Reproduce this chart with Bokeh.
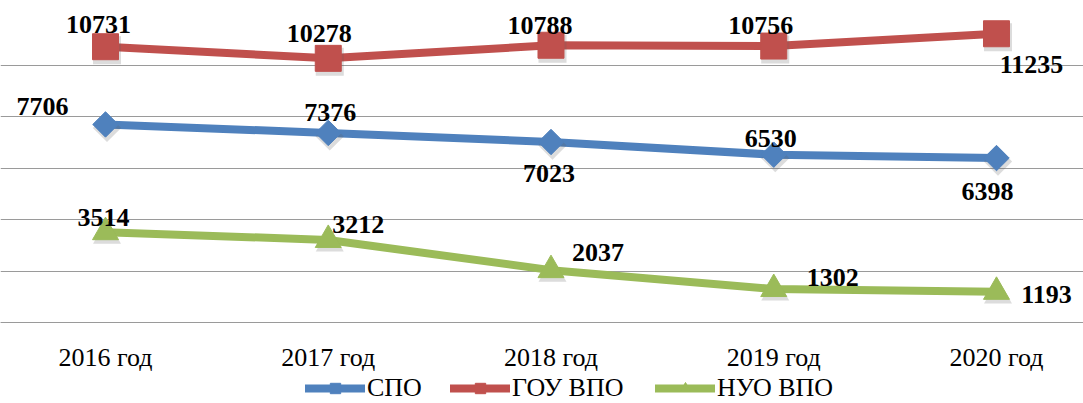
import math
from bokeh.plotting import figure
from bokeh.models import (ColumnDataSource, FixedTicker, Legend, LegendItem, Range1d)
from bokeh.core.properties import value
from bokeh.embed import file_html
from bokeh.resources import INLINE

# ---- data ----
years = ["2016 год", "2017 год", "2018 год", "2019 год", "2020 год"]
spo = [7706, 7376, 7023, 6530, 6398]
gou = [10731, 10278, 10788, 10756, 11235]
nuo = [3514, 3212, 2037, 1302, 1193]
series_names = ["СПО", "ГОУ ВПО", "НУО ВПО"]
grid_ticks = [0, 2000, 4000, 6000, 8000, 10000]

# ---- label placement (screen px offsets) ----
spo_dx = [-63, 2, -2, -3, -9]
spo_dy = [-18, -20, 31, -16, 33]
gou_dx = [-7, -9, -11, -13, 35]
gou_dy = [-22, -25, -20, -21, 31]
nuo_dx = [-2, 30, 47, 59, 50]
nuo_dy = [-15, -15, -18, -12, 3]
legend_x = [305, 450, 655]   # screen px from the frame's left edge

BLUE = "#4F81BD"
RED = "#C0504D"
GREEN = "#9BBB59"
GRID = "#9A9A9A"
SERIF = "Liberation Serif"
UNITS_PER_PX = 38.91   # vertical scale: 2000 units per ~51.4 px

xs = list(range(len(years)))

p = figure(width=1083, height=403, output_backend="svg", toolbar_location=None,
           x_range=Range1d(-0.4714, 4.3906), y_range=Range1d(-3152, 12529),
           min_border_left=0, min_border_right=0, min_border_top=0, min_border_bottom=0)
p.outline_line_color = None
p.background_fill_color = "white"
p.border_fill_color = "white"

p.xgrid.visible = False
p.ygrid.ticker = FixedTicker(ticks=grid_ticks)
p.ygrid.grid_line_color = GRID
p.ygrid.grid_line_width = 1
p.yaxis.visible = False

p.xaxis.fixed_location = 0
p.xaxis.ticker = FixedTicker(ticks=xs)
p.xaxis.major_label_overrides = {i: y for i, y in enumerate(years)}
p.xaxis.major_tick_out = 0
p.xaxis.major_tick_in = 0
p.xaxis.minor_tick_out = 0
p.xaxis.minor_tick_in = 0
p.xaxis.axis_line_color = GRID
p.xaxis.major_label_standoff = 21
p.xaxis.major_label_text_font = SERIF
p.xaxis.major_label_text_font_size = "26px"
p.xaxis.major_label_text_color = "black"

specs = [
    (series_names[0], spo, BLUE, "square", 18, math.pi / 4, spo_dx, spo_dy),
    (series_names[1], gou, RED, "square", 26, 0.0, gou_dx, gou_dy),
    (series_names[2], nuo, GREEN, "triangle", 26, 0.0, nuo_dx, nuo_dy),
]
for k, (name, vals, color, marker, size, angle, dx, dy) in enumerate(specs):
    src = ColumnDataSource(dict(x=xs, y=vals, t=[str(v) for v in vals], dx=dx, dy=dy))
    shadow = ColumnDataSource(dict(x=[v + 1.5 / 222.75 for v in xs],
                                   y=[v - 3.5 * UNITS_PER_PX for v in vals]))
    lr = p.line("x", "y", source=src, line_color=color, line_width=8,
                line_join="round", line_cap="round")
    p.scatter("x", "y", source=shadow, marker=marker, size=size + 2, angle=angle,
              fill_color="#606060", fill_alpha=0.22, line_color=None)
    sr = p.scatter("x", "y", source=src, marker=marker, size=size, angle=angle,
                   fill_color=color, line_color=color)
    p.text("x", "y", text="t", source=src, x_offset="dx", y_offset="dy",
           text_font=value(SERIF), text_font_style="bold", text_font_size="26px",
           text_color="black", text_align="center", text_baseline="middle")
    leg = Legend(items=[LegendItem(label=name, renderers=[lr, sr])],
                 orientation="horizontal", location=(legend_x[k], 0),
                 label_text_font=SERIF, label_text_font_size="26px",
                 label_text_color="black",
                 glyph_width=60, glyph_height=26, label_standoff=2,
                 padding=2, margin=0, border_line_color=None, background_fill_alpha=0)
    p.add_layout(leg, "center")

open("out.html", "w").write(file_html(p, INLINE))
